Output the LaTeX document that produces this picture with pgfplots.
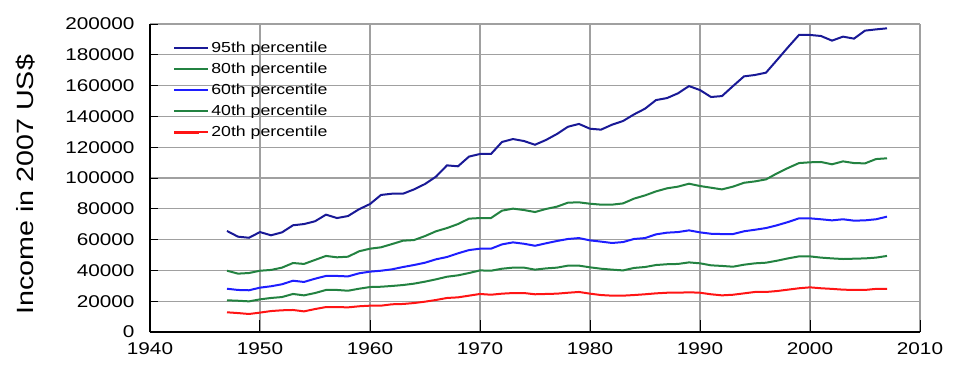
\documentclass[border=0pt]{standalone}
\usepackage{pgfplots}
\usepackage{pgfplotstable}
\pgfplotsset{compat=1.18}
\usepackage{fontspec}
\setmainfont{Liberation Sans}[FakeStretch=1.22]
\definecolor{cdblue}{RGB}{25,25,150}
\definecolor{cgreen}{RGB}{35,130,65}
\definecolor{cblue}{RGB}{30,30,255}
\definecolor{cred}{RGB}{255,20,20}
\definecolor{cgrid}{RGB}{160,160,160}
\pgfplotstableread{
year p95 p80 p60 p40 p20
1947 65600 39800 28100 20600 12800
1948 61900 37900 27300 20300 12300
1949 61200 38300 27100 19900 11700
1950 64900 39800 28800 21200 12600
1951 62800 40300 29700 22100 13600
1952 64700 41800 31000 22700 14100
1953 69300 44800 33300 24700 14300
1954 70100 44200 32500 23800 13400
1955 71900 46800 34600 25300 14900
1956 76200 49400 36400 27300 16200
1957 74000 48500 36400 27300 16200
1958 75300 48900 36100 26800 16000
1959 79700 52400 38100 28100 16700
1960 83100 54100 39200 29200 17100
1961 89000 55000 39800 29400 17100
1962 89800 57100 40700 29900 18000
1963 89800 59300 42200 30500 18200
1964 92600 59700 43500 31400 18800
1965 96100 62300 45000 32700 19700
1966 100900 65400 47200 34200 20800
1967 108200 67500 48700 35900 22100
1968 107600 70100 51100 36800 22500
1969 113900 73600 53200 38300 23600
1970 115600 74000 54100 40000 24700
1971 115600 74000 54100 39800 24200
1972 123400 78800 56900 41100 24900
1973 125300 80100 58200 41800 25300
1974 124000 79200 57300 41800 25300
1975 121600 77900 56000 40500 24500
1976 124700 79900 57600 41300 24700
1977 128600 81400 59100 41800 24900
1978 133300 84000 60400 43100 25500
1979 135100 84200 61000 43100 26000
1980 132000 83300 59500 42000 24900
1981 131400 82700 58700 41100 24000
1982 134600 82700 57800 40500 23600
1983 137000 83500 58400 40000 23600
1984 141300 86600 60400 41600 24000
1985 145000 88700 61000 42200 24500
1986 150600 91300 63400 43500 25100
1987 151900 93300 64500 44000 25500
1988 155000 94400 64900 44200 25500
1989 159700 96300 66000 45200 25800
1990 157100 94800 64700 44600 25500
1991 152600 93700 63800 43300 24500
1992 153200 92600 63600 42900 23800
1993 159700 94400 63600 42400 24200
1994 166000 96900 65400 43700 25100
1995 166900 97800 66400 44600 26000
1996 168400 99100 67500 45000 26000
1997 176600 103000 69300 46300 26600
1998 184900 106500 71400 47800 27500
1999 192900 109700 73800 49100 28400
2000 192900 110200 73800 49100 29000
2001 192200 110400 73200 48300 28400
2002 189200 108900 72500 47800 28000
2003 191800 110800 73200 47400 27500
2004 190500 109700 72300 47600 27300
2005 195700 109500 72500 47800 27300
2006 196500 112300 73200 48300 28000
2007 197200 112800 74900 49400 28000
}\datatable
\begin{document}
\begin{tikzpicture}
\begin{axis}[
  scale only axis, width=770pt, height=308pt,
  xmin=1940, xmax=2010, ymin=0, ymax=200000,
  xtick={1940,1950,1960,1970,1980,1990,2000,2010},
  xticklabels={1940,1950,1960,1970,1980,1990,2000,2010},
  ytick={0,20000,40000,60000,80000,100000,120000,140000,160000,180000,200000},
  yticklabels={0,20000,40000,60000,80000,100000,120000,140000,160000,180000,200000},
  scaled x ticks=false, scaled y ticks=false,
  axis x line*=bottom, axis y line*=left,
  axis line style={black, line width=1.3pt, -},
  grid=major, major grid style={cgrid, line width=1.1pt},
  tick align=inside,
  tick style={black, line width=1pt},
  xtick style={/pgfplots/major tick length=12pt},
  ytick style={/pgfplots/major tick length=8pt},
  ticklabel style={font=\fontsize{17}{20}\selectfont},
  xticklabel style={yshift=-7pt},
  yticklabel style={xshift=-12pt},
  ylabel={Income in 2007 US\$},
  ylabel style={font=\fontsize{23.5}{26}\selectfont, at={(axis description cs:-0.1617,0.478)}, anchor=center},
  legend cell align=left,
  legend style={at={(axis description cs:0.03,0.95)}, anchor=north west, draw=none, fill=none,
    font=\fontsize{14.5}{17}\selectfont, inner sep=0pt, row sep=5.2pt, nodes={inner sep=2pt}},
  legend image code/.code={\draw[#1, line width=2.2pt] (0pt,0pt) -- (25pt,0pt); \path (0pt,0pt) -- (34pt,0pt);},
  every axis plot/.append style={line width=2pt},
]
\addplot[cdblue] table[x=year,y=p95] {\datatable};
\addlegendentry{95th percentile}
\addplot[cgreen] table[x=year,y=p80] {\datatable};
\addlegendentry{80th percentile}
\addplot[cblue] table[x=year,y=p60] {\datatable};
\addlegendentry{60th percentile}
\addplot[cgreen] table[x=year,y=p40] {\datatable};
\addlegendentry{40th percentile}
\addplot[cred] table[x=year,y=p20] {\datatable};
\addlegendentry{20th percentile}
\end{axis}
\path (current axis.south west) ++(-150pt,-52pt) rectangle ++(960pt,384pt);
\end{tikzpicture}
\end{document}
